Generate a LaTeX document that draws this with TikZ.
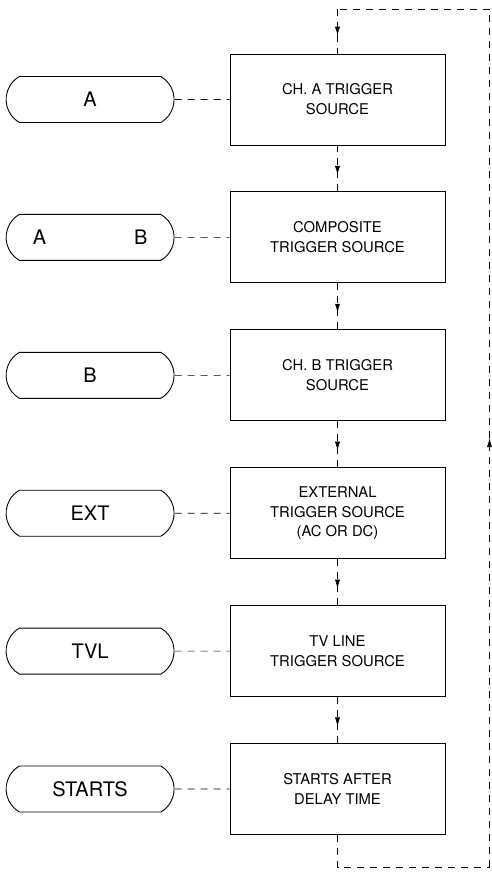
\documentclass[tikz,border=0pt]{standalone}
\usepackage{fontspec}
\setmainfont{TeX Gyre Heros}
\usetikzlibrary{arrows.meta,positioning,shapes.misc,decorations.markings}

\begin{document}
\begin{tikzpicture}[x=1pt, y=1pt,
  node distance=46pt and 55pt,
  stage/.style={draw, line width=0.9pt, minimum width=215pt, minimum height=91pt,
                inner sep=0pt, align=center, font=\fontsize{14.8}{19.8}\selectfont},
  src/.style={draw, line width=0.9pt, rounded rectangle, rounded rectangle arc length=120,
              minimum width=168pt, minimum height=46pt, inner sep=0pt,
              font=\fontsize{20}{24}\selectfont},
  link/.style={dash pattern=on 7pt off 6pt, line width=0.6pt},
  flow/.style={link, postaction={decorate},
               decoration={markings, mark=at position #1 with
                 {\arrow{Latex[length=9pt,width=5pt]}}}},
  flow/.default=0.64]
  \useasboundingbox (0,0) rectangle (491,-877);
  % trigger stages
  \node[stage] (chA) at (337.5,-99.5) {CH. A TRIGGER\\SOURCE};
  \node[stage, below=of chA] (comp) {COMPOSITE\\TRIGGER SOURCE};
  \node[stage, below=of comp] (chB) {CH. B TRIGGER\\SOURCE};
  \node[stage, below=of chB] (ext) {EXTERNAL\\TRIGGER SOURCE\\(AC OR DC)};
  \node[stage, below=of ext] (tvl) {TV LINE\\TRIGGER SOURCE};
  \node[stage, below=of tvl] (delay) {STARTS AFTER\\DELAY TIME};
  % panel keys
  \node[src, left=of chA] (keyA) {A};
  \node[src, left=of comp] (keyAB) {A\hspace{88pt}B};
  \node[src, left=of chB] (keyB) {B};
  \node[src, left=of ext] (keyExt) {EXT};
  \node[src, left=of tvl] (keyTvl) {TVL};
  \node[src, left=of delay] (keyStarts) {STARTS};
  \foreach \k/\s in {keyA/chA, keyAB/comp, keyB/chB, keyExt/ext, keyTvl/tvl, keyStarts/delay}
    \draw[link] (\k) -- (\s);
  \foreach \a/\b in {chA/comp, comp/chB, chB/ext, ext/tvl, tvl/delay}
    \draw[flow] (\a) -- (\b);
  % loop back to the top
  \coordinate (loopbot) at (489.5,-867);
  \coordinate (looptop) at (489.5,-9);
  \coordinate (topin) at (chA.north |- looptop);
  \draw[link] (delay) |- (loopbot);
  \draw[flow=0.5] (loopbot) -- (looptop);
  \draw[link] (looptop) -- (topin);
  \draw[flow=0.6] (topin) -- (chA);
\end{tikzpicture}
\end{document}
